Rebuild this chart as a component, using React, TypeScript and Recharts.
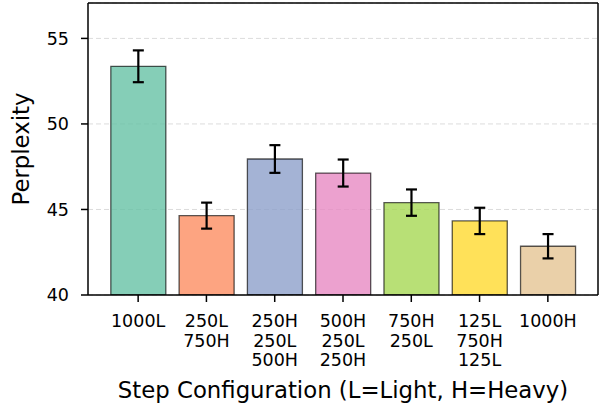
import React from 'react';
import { BarChart, Bar, XAxis, YAxis, CartesianGrid, ErrorBar, Cell } from 'recharts';

const categories = ['1000L', '250L\n750H', '250H\n250L\n500H', '500H\n250L\n250H', '750H\n250L', '125L\n750H\n125L', '1000H'];
const perplexity = [53.37, 44.64, 47.95, 47.13, 45.4, 44.33, 42.85];
const errors = [0.93, 0.76, 0.81, 0.79, 0.77, 0.77, 0.71];
const colors = ['#66c2a5', '#fc8d62', '#8da0cb', '#e78ac3', '#a6d854', '#ffd92f', '#e5c494'];
const yTicks = [40, 45, 50, 55];
const yDomain = [40, 57.07];

const data = categories.map((name, i) => ({ name, value: perplexity[i], err: errors[i] }));

const FONT = '"DejaVu Sans", sans-serif';

const XTick = (props: any) => {
  const { x, y, payload } = props;
  const lines = String(payload.value).split('\n');
  return (
    <text x={x} y={y} textAnchor="middle" fontSize={17.5} fontFamily={FONT} fill="#000">
      {lines.map((l, i) => (
        <tspan key={i} x={x} y={y + 23 + i * 19.5}>
          {l}
        </tspan>
      ))}
    </text>
  );
};

const XLabel = (props: any) => {
  const vb = props.viewBox || { x: 88, width: 510 };
  const cx = vb.x + vb.width / 2;
  return (
    <text x={cx} y={398} textAnchor="middle" fontSize={22.8} fontFamily={FONT} fill="#000">
      Step Configuration (L=Light, H=Heavy)
    </text>
  );
};

const YLabel = (props: any) => {
  const vb = props.viewBox || { y: 3, height: 292 };
  const cy = vb.y + vb.height / 2;
  return (
    <text
      x={29}
      y={cy}
      textAnchor="middle"
      fontSize={22.8}
      fontFamily={FONT}
      fill="#000"
      transform={`rotate(-90, 29, ${cy})`}
    >
      Perplexity
    </text>
  );
};

export default function App() {
  return (
    <div style={{ position: 'absolute', left: 0, top: 0, width: 602, height: 406, background: '#fff', fontFamily: FONT }}>
      <BarChart
        width={602}
        height={406}
        data={data}
        margin={{ top: 2, right: 3, bottom: 0, left: 0 }}
        barCategoryGap="10%"
      >
        <CartesianGrid vertical={false} stroke="#dcdcdc" strokeDasharray="5 3" strokeWidth={1} />
        <XAxis
          dataKey="name"
          height={111}
          interval={0}
          padding={{ left: 16, right: 16 }}
          tick={<XTick />}
          tickSize={7}
          tickMargin={2}
          axisLine={{ stroke: '#000', strokeWidth: 1.5 }}
          tickLine={{ stroke: '#000', strokeWidth: 1.5 }}
          label={XLabel}
        />
        <XAxis
          xAxisId="top"
          dataKey="name"
          orientation="top"
          height={1}
          tick={false}
          tickLine={false}
          axisLine={{ stroke: '#000', strokeWidth: 1.5 }}
        />
        <YAxis
          width={88}
          type="number"
          domain={yDomain}
          ticks={yTicks}
          allowDataOverflow
          tickSize={7}
          tickMargin={12}
          tick={{ fontSize: 17.5, fill: '#000', fontFamily: FONT }}
          axisLine={{ stroke: '#000', strokeWidth: 1.5 }}
          tickLine={{ stroke: '#000', strokeWidth: 1.5 }}
          label={YLabel}
        />
        <YAxis
          yAxisId="right"
          orientation="right"
          width={1}
          type="number"
          domain={yDomain}
          allowDataOverflow
          tick={false}
          tickLine={false}
          axisLine={{ stroke: '#000', strokeWidth: 1.5 }}
        />
        <Bar dataKey="value" isAnimationActive={false} stroke="#000" strokeOpacity={0.65} strokeWidth={1.3}>
          {data.map((d, i) => (
            <Cell key={d.name} fill={colors[i]} fillOpacity={0.8} />
          ))}
          <ErrorBar dataKey="err" width={5.5} stroke="#000" strokeWidth={2.2} direction="y" isAnimationActive={false} />
        </Bar>
      </BarChart>
    </div>
  );
}
